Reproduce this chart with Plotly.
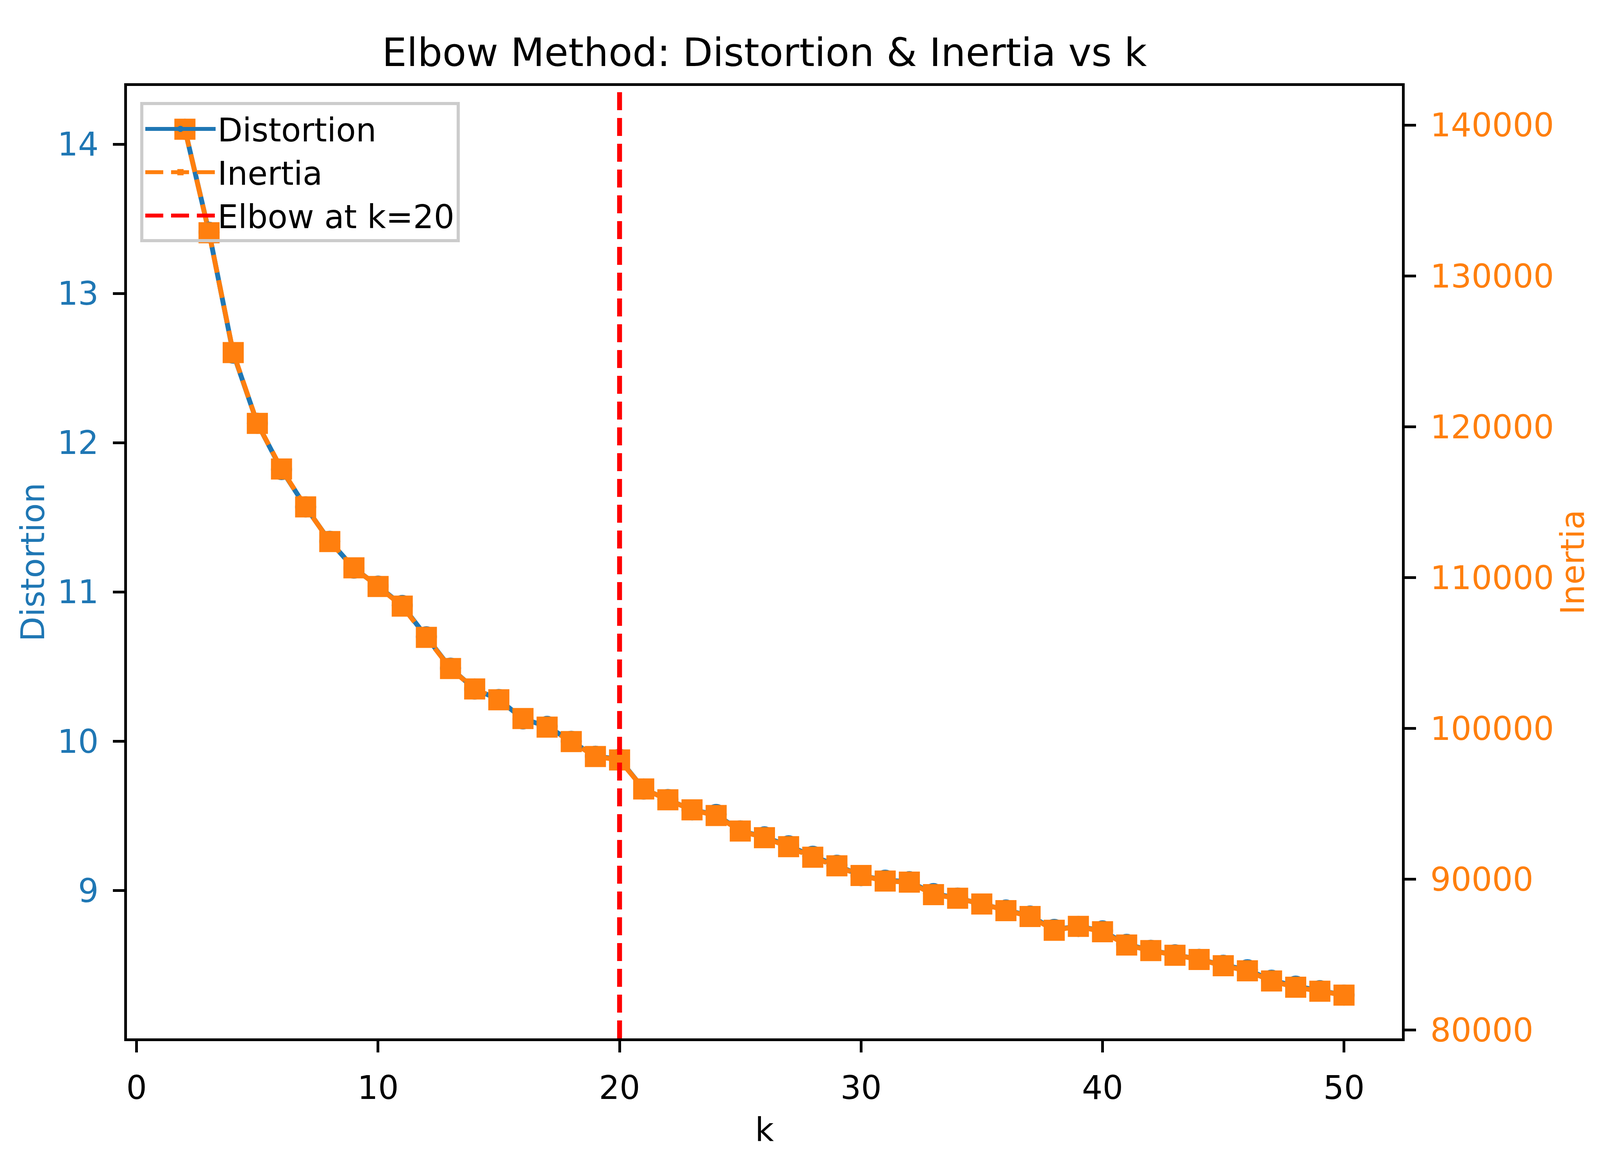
"""Elbow plot: distortion and inertia against the number of clusters k."""

import plotly.graph_objects as go

# values
k_values = list(range(2, 51))
distortion = [
    14.10, 13.41, 12.60, 12.13, 11.82, 11.57, 11.34, 11.16, 11.04, 10.91,
    10.70, 10.49, 10.35, 10.28, 10.15, 10.10, 10.00, 9.90, 9.88, 9.68,
    9.61, 9.54, 9.51, 9.40, 9.36, 9.30, 9.23, 9.17, 9.10, 9.07,
    9.06, 8.98, 8.95, 8.91, 8.87, 8.83, 8.74, 8.76, 8.73, 8.64,
    8.60, 8.57, 8.54, 8.50, 8.47, 8.40, 8.36, 8.33, 8.30,
]
inertia = [
    139730, 132870, 124920, 120230, 117200, 114690, 112390, 110650, 109410, 108110,
    106040, 103970, 102620, 101900, 100660, 100090, 99130, 98140, 97910, 95990,
    95270, 94600, 94230, 93200, 92760, 92160, 91460, 90890, 90250, 89880,
    89810, 88980, 88740, 88360, 87920, 87530, 86620, 86880, 86520, 85640,
    85270, 84960, 84680, 84270, 83930, 83260, 82840, 82580, 82320,
]
elbow_k = 20

x_ticks = [0, 10, 20, 30, 40, 50]
dist_ticks = [9, 10, 11, 12, 13, 14]
inertia_ticks = [80000, 90000, 100000, 110000, 120000, 130000, 140000]

BLUE = "#1f77b4"
ORANGE = "#ff7f0e"
FONT = "DejaVu Sans"
LW = 12.5            # 1.5pt at 600 dpi
DASH = "46px,20px"   # matplotlib '--'
SPINE = 6.7
TICK_FS = 83
MARKER = 54

# the page fills the browser window, which is 4096 px wide,
# so horizontal margins are the 4800 px layout scaled down
XS = 4096 / 4800


def _padded(vals, frac=0.05):
    lo, hi = min(vals), max(vals)
    pad = (hi - lo) * frac
    return [lo - pad, hi + pad]


fig = go.Figure()

fig.add_trace(go.Scatter(
    x=k_values, y=distortion,
    mode="lines+markers",
    name="Distortion",
    line=dict(color=BLUE, width=LW),
    marker=dict(symbol="circle", size=MARKER, color=BLUE),
    yaxis="y",
))

fig.add_trace(go.Scatter(
    x=k_values, y=inertia,
    mode="lines+markers",
    name="Inertia",
    line=dict(color=ORANGE, width=LW, dash=DASH),
    marker=dict(symbol="square", size=MARKER, color=ORANGE),
    yaxis="y2",
))

fig.add_vline(
    x=elbow_k,
    line=dict(color="red", width=LW, dash=DASH),
    layer="above",
    showlegend=True,
    name=f"Elbow at k={elbow_k}",
)

axis_common = dict(
    showline=True, linecolor="black", linewidth=SPINE,
    ticks="outside", ticklen=29, tickwidth=SPINE, tickcolor="black",
    showgrid=False, zeroline=False,
    ticklabelstandoff=20,
)

fig.update_layout(
    autosize=True,
    margin=dict(l=round(372 * XS), r=round(585 * XS), t=212, b=350, pad=0),
    paper_bgcolor="white",
    plot_bgcolor="white",
    font=dict(family=FONT, size=TICK_FS, color="black"),
    title=dict(
        text="Elbow Method: Distortion & Inertia vs k",
        font=dict(size=100, color="black"),
        x=0.5, xref="paper", xanchor="center",
        y=0.958, yref="container", yanchor="middle",
    ),
    xaxis=dict(
        range=_padded(k_values),
        tickvals=x_ticks,
        mirror=True,
        title=dict(text="k", standoff=33, font=dict(size=TICK_FS)),
        tickfont=dict(size=TICK_FS, color="black"),
        **axis_common,
    ),
    yaxis=dict(
        range=_padded(distortion),
        tickvals=dist_ticks,
        title=dict(text="Distortion", standoff=8,
                   font=dict(size=TICK_FS, color=BLUE)),
        tickfont=dict(size=TICK_FS, color=BLUE),
        **axis_common,
    ),
    yaxis2=dict(
        range=_padded(inertia),
        tickvals=inertia_ticks,
        tickformat="d",
        overlaying="y",
        side="right",
        anchor="x",
        title=dict(text="Inertia", standoff=8,
                   font=dict(size=TICK_FS, color=ORANGE)),
        tickfont=dict(size=TICK_FS, color=ORANGE),
        **axis_common,
    ),
    legend=dict(
        x=0.0104, y=0.983, xanchor="left", yanchor="top",
        font=dict(size=TICK_FS, color="black"),
        bgcolor="rgba(255,255,255,0)",
        bordercolor="#cccccc",
        borderwidth=8,
        itemwidth=180,
    ),
    showlegend=True,
)

fig.write_html("out.html", default_width="100%", default_height="100vh")
